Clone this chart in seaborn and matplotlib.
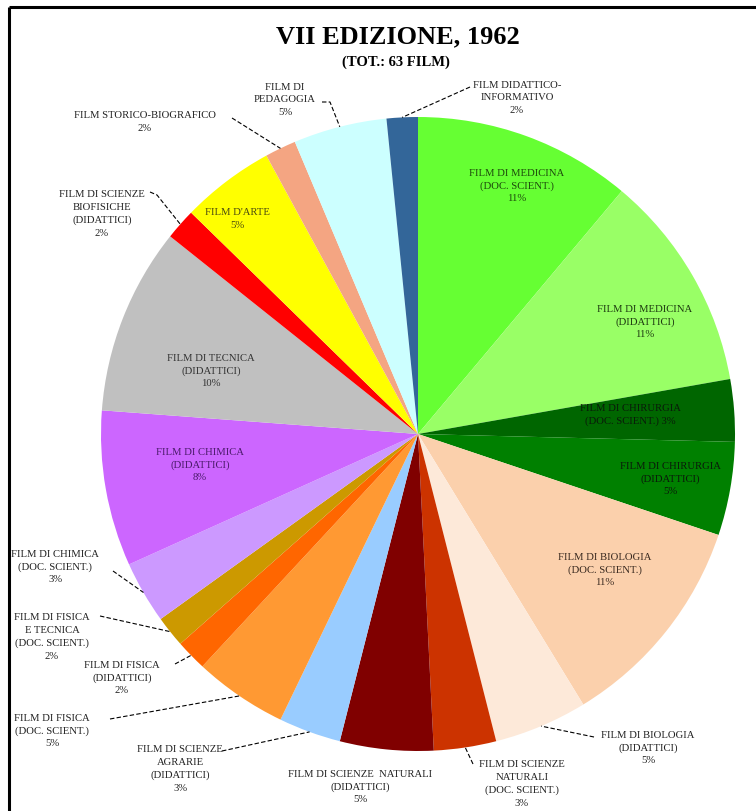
import numpy as np
import matplotlib
matplotlib.use("Agg")
import matplotlib.pyplot as plt
import seaborn as sns

# ---- data -------------------------------------------------------------
categories = [
    "FILM DI MEDICINA\n(DOC. SCIENT.)",
    "FILM DI MEDICINA\n(DIDATTICI)",
    "FILM DI CHIRURGIA\n(DOC. SCIENT.)",
    "FILM DI CHIRURGIA\n(DIDATTICI)",
    "FILM DI BIOLOGIA\n(DOC. SCIENT.)",
    "FILM DI BIOLOGIA\n(DIDATTICI)",
    "FILM DI SCIENZE\nNATURALI\n(DOC. SCIENT.)",
    "FILM DI SCIENZE  NATURALI\n(DIDATTICI)",
    "FILM DI SCIENZE\nAGRARIE\n(DIDATTICI)",
    "FILM DI FISICA\n(DOC. SCIENT.)",
    "FILM DI FISICA\n(DIDATTICI)",
    "FILM DI FISICA\nE TECNICA\n(DOC. SCIENT.)",
    "FILM DI CHIMICA\n(DOC. SCIENT.)",
    "FILM DI CHIMICA\n(DIDATTICI)",
    "FILM DI TECNICA\n(DIDATTICI)",
    "FILM DI SCIENZE\nBIOFISICHE\n(DIDATTICI)",
    "FILM D'ARTE",
    "FILM STORICO-BIOGRAFICO",
    "FILM DI\nPEDAGOGIA",
    "FILM DIDATTICO-\nINFORMATIVO",
]
film_counts = [7, 7, 2, 3, 7, 3, 2, 3, 2, 3, 1, 1, 2, 5, 6, 1, 3, 1, 3, 1]
colors = [
    "#66ff33", "#99ff66", "#006600", "#008000", "#fbd0ac",
    "#fde9d9", "#cc3300", "#800000", "#99ccff", "#ff9933",
    "#ff6600", "#cc9900", "#cc99ff", "#cc66ff", "#c0c0c0",
    "#ff0000", "#ffff00", "#f4a582", "#ccffff", "#336699",
]
title = "VII EDIZIONE, 1962"
subtitle = "(TOT.: 63 FILM)"

# ---- layout (pixel space, origin top-left) -----------------------------
W, H = 756, 812
CX, CY, R = 418, 435, 317

# label anchor (x, y) in pixels; inside labels have no leader line
label_pos = [
    (517, 186), (645, 322), (630, 415), (670, 479), (605, 570),
    (648, 748), (522, 784), (360, 787), (180, 769), (52, 731),
    (122, 678), (52, 637), (55, 567), (200, 465), (211, 371),
    (102, 214), (237, 219), (145, 122), (285, 100), (517, 98),
]
# leader line path near the text (pixels); None = no leader
leader_start = [None, None, None, None, None,
                [(594, 738)], [(473, 765)], None, [(222, 752)], [(110, 720)],
                [(175, 665)], [(100, 617)], [(113, 572)], None, None,
                [(150, 193), (157, 196)], None, [(232, 119)],
                [(322, 103), (330, 103)], [(470, 88)]]
text_colors = ["#1d4a0c", "#1d3a10", "#0a1a0a", "#0a1a0a", "#3a2a20",
               "#222222", "#222222", "#222222", "#222222", "#222222",
               "#222222", "#222222", "#222222", "#4a1a6a", "#333333",
               "#222222", "#4a4a10", "#222222", "#222222", "#222222"]

sns.set_theme(style="white")
plt.rcParams["font.family"] = ["Liberation Serif", "DejaVu Serif"]

fig = plt.figure(figsize=(W / 100, H / 100), dpi=100)
ax = fig.add_axes([0, 0, 1, 1])


def fy(y):
    return H - y


wedges, _ = ax.pie(
    film_counts,
    colors=colors,
    startangle=90,
    counterclock=False,
    center=(CX, fy(CY)),
    radius=R,
    wedgeprops=dict(linewidth=0),
    frame=True,
)
ax.set_xlim(0, W)
ax.set_ylim(0, H)
ax.set_aspect("equal")
ax.axis("off")

total = sum(film_counts)
for i, (w, cat) in enumerate(zip(wedges, categories)):
    pct = round(100 * film_counts[i] / total)
    if i == 2:
        txt = "FILM DI CHIRURGIA\n(DOC. SCIENT.) %d%%" % pct
    else:
        txt = "%s\n%d%%" % (cat, pct)
    x, y = label_pos[i]
    ax.text(x, fy(y), txt, ha="center", va="center", multialignment="center",
            fontsize=7.7, color=text_colors[i], linespacing=1.5)
    if leader_start[i] is not None:
        mid = np.deg2rad((w.theta1 + w.theta2) / 2)
        ex = CX + R * np.cos(mid)
        ey = fy(CY) + R * np.sin(mid)
        pts = leader_start[i]
        xs = [p[0] for p in pts] + [ex]
        ys = [fy(p[1]) for p in pts] + [ey]
        ax.plot(xs, ys, color="black", lw=0.8, linestyle=(0, (4, 2)))

# heading
ax.text(398, fy(37), title, ha="center", va="center", fontsize=19,
        fontweight="bold", color="black")
ax.text(396, fy(62), subtitle, ha="center", va="center", fontsize=10.5,
        fontweight="bold", color="black")

# frame edges (top and left)
ax.plot([9, W], [fy(7.5), fy(7.5)], color="black", lw=2.2,
        solid_capstyle="butt")
ax.plot([9, 9], [fy(7.5), 0], color="black", lw=2.2, solid_capstyle="butt")

fig.savefig("out.png", dpi=100)
